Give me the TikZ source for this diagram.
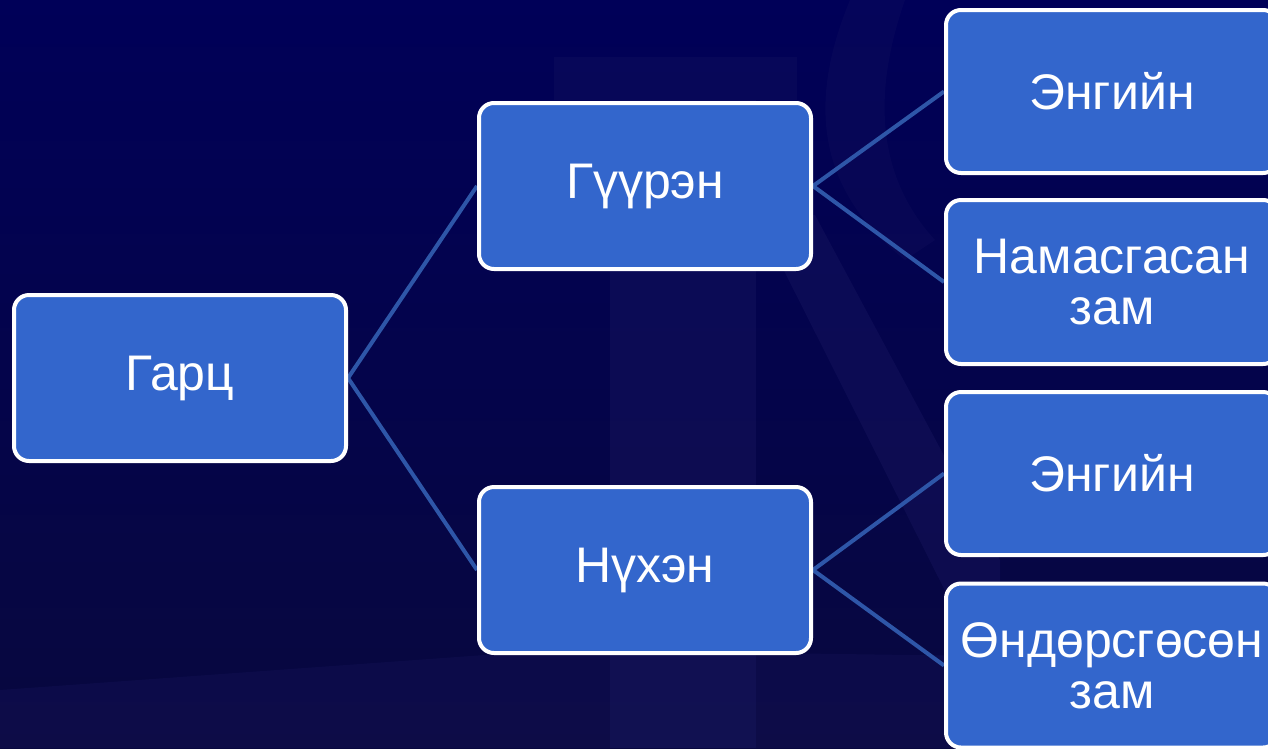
\documentclass[tikz,border=0pt]{standalone}
\usepackage{fontspec}
\setmainfont{Liberation Sans}
\pgfdeclarelayer{bg}
\pgfdeclarelayer{edges}
\pgfsetlayers{bg,edges,main}
\definecolor{boxblue}{RGB}{51,102,204}
\definecolor{linkblue}{RGB}{46,86,168}
\definecolor{bgtop}{RGB}{0,0,88}
\definecolor{bgbot}{RGB}{8,8,62}
\definecolor{wmark}{RGB}{28,26,100}
\tikzset{
  box/.style={draw=white, line width=4pt, fill=boxblue, rounded corners=15pt,
    minimum width=332pt, text=white, align=center,
    font=\fontsize{50}{51}\selectfont},
  link/.style={draw=linkblue, line width=4pt},
  wm/.style={fill=wmark, opacity=0.35}
}
\begin{document}
\begin{tikzpicture}[x=1pt,y=-1pt]
\useasboundingbox (0,0) rectangle (1268,748);
\begin{pgfonlayer}{bg}
  \shade[top color=bgtop, bottom color=bgbot] (0,0) rectangle (1268,748);
  % faint watermark letter
  \fill[wm, opacity=0.25] (554,57) rectangle (797,100);
  \fill[wm] (610,100) rectangle (756,748);
  \fill[wm] (756,215) -- (815,215) -- (1000,560) -- (1000,700) -- cycle;
  \fill[wm, opacity=0.2] (850,0) .. controls (800,120) and (830,200) .. (905,260)
        -- (935,240) .. controls (880,180) and (870,100) .. (905,0) -- cycle;
  \fill[wm, opacity=0.25] (0,690) -- (554,650) -- (1268,660) -- (1268,748) -- (0,748) -- cycle;
\end{pgfonlayer}

\node[box, minimum height=166pt] (garts) at (180,378) {Гарц};
\node[box, minimum height=166pt] (guuren) at (645,186) {Гүүрэн};
\node[box, minimum height=166pt] (nukhen) at (645,570) {Нүхэн};
\node[box, minimum height=163pt] (eng1) at (1112,91.5) {Энгийн};
\node[box, minimum height=164pt] (namas) at (1112,282) {Намасгасан\\зам};
\node[box, minimum height=163pt] (eng2) at (1112,473.5) {Энгийн};
\node[box, minimum height=164pt] (ondor) at (1112,665.5) {Өндөрсгөсөн\\зам};

\begin{pgfonlayer}{edges}
  \draw[link] (garts.east) -- (guuren.west);
  \draw[link] (garts.east) -- (nukhen.west);
  \draw[link] (guuren.east) -- (eng1.west);
  \draw[link] (guuren.east) -- (namas.west);
  \draw[link] (nukhen.east) -- (eng2.west);
  \draw[link] (nukhen.east) -- (ondor.west);
\end{pgfonlayer}
\end{tikzpicture}
\end{document}
